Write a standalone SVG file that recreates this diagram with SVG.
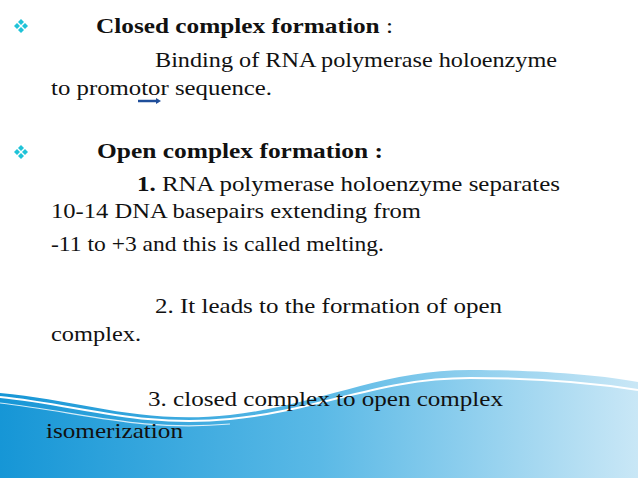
<svg xmlns="http://www.w3.org/2000/svg" width="638" height="478" viewBox="0 0 638 478" xml:space="preserve">
<defs>
<linearGradient id="g" x1="0" y1="0" x2="1" y2="0"><stop offset="0" stop-color="#1696d6"/><stop offset="0.5" stop-color="#5ab9e6"/><stop offset="1" stop-color="#c9e7f6"/></linearGradient>
<g id="b" fill="#1fc3d8"><path d="M0,-7 l3,3 -3,3 -3,-3z"/><path d="M0,1 l3,3 -3,3 -3,-3z"/><path d="M-4,-3 l3,3 -3,3 -3,-3z"/><path d="M4,-3 l3,3 -3,3 -3,-3z"/></g>
</defs>
<style>text{font-family:"Liberation Serif",serif;font-size:22px;fill:#111}.b{font-weight:bold}</style>
<rect width="638" height="478" fill="#fff"/>
<path d="M0,393 C80,400 140,425 230,415 C320,405 380,370 470,370 C540,370 600,375 638,382 L638,478 L0,478Z" fill="url(#g)"/>
<path d="M0,397 C80,405 140,428 230,419 C320,410 380,378 470,378 C540,378 600,384 638,390" fill="none" stroke="#fff" stroke-width="2"/>
<path d="M0,403 C80,412 140,432 230,424" fill="none" stroke="#fff" stroke-width="1.2" opacity="0.8"/>
<use href="#b" x="21" y="26"/>
<use href="#b" x="21" y="152"/>
<text x="96" y="33" textLength="297" lengthAdjust="spacingAndGlyphs"><tspan class="b">Closed complex formation</tspan> :</text>
<text x="155" y="67" textLength="402" lengthAdjust="spacingAndGlyphs">Binding of RNA polymerase holoenzyme</text>
<text x="51" y="95" textLength="221" lengthAdjust="spacingAndGlyphs">to promotor sequence.</text>
<path d="M138,101 H157" stroke="#1f4e9a" stroke-width="2.5"/><path d="M156,98 l5,3 -5,3z" fill="#1f4e9a"/>
<text x="97" y="158" class="b" textLength="286" lengthAdjust="spacingAndGlyphs">Open complex formation :</text>
<text x="137" y="191" textLength="423" lengthAdjust="spacingAndGlyphs"><tspan class="b">1.</tspan>   RNA polymerase holoenzyme separates</text>
<text x="51" y="218" textLength="370" lengthAdjust="spacingAndGlyphs">10-14 DNA  basepairs  extending from</text>
<text x="51" y="251" textLength="333" lengthAdjust="spacingAndGlyphs">-11 to +3 and this is called melting.</text>
<text x="155" y="313" textLength="347" lengthAdjust="spacingAndGlyphs">2.  It leads to the formation of open</text>
<text x="51" y="341" textLength="90" lengthAdjust="spacingAndGlyphs">complex.</text>
<text x="148" y="406" textLength="355" lengthAdjust="spacingAndGlyphs">3.   closed complex to open complex</text>
<text x="46" y="438" textLength="137" lengthAdjust="spacingAndGlyphs">isomerization</text>
</svg>
